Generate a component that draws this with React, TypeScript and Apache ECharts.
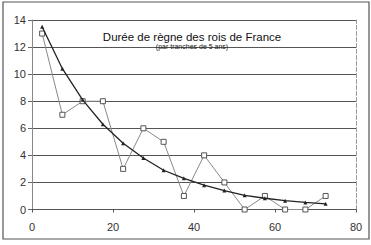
import React, { useEffect, useRef } from "react";
import * as echarts from "echarts";

const trancheCenters = [2.5, 7.5, 12.5, 17.5, 22.5, 27.5, 32.5, 37.5, 42.5, 47.5, 52.5, 57.5, 62.5, 67.5, 72.5];
const nombreRois = [13, 7, 8, 8, 3, 6, 5, 1, 4, 2, 0, 1, 0, 0, 1];
const tendance = [13.5, 10.4, 8.1, 6.3, 4.9, 3.8, 2.9, 2.3, 1.8, 1.4, 1.05, 0.83, 0.65, 0.52, 0.42];
const titre = "Durée de règne des rois de France";
const sousTitre = "(par tranches de 5 ans)";

const FONT = "Liberation Sans, Arial, sans-serif";

export default function App() {
  const ref = useRef<HTMLDivElement>(null);
  useEffect(() => {
    if (!ref.current) return;
    const chart = echarts.init(ref.current, null, { renderer: "svg" });
    chart.setOption({
      animation: false,
      backgroundColor: "#ffffff",
      title: {
        text: titre,
        subtext: sousTitre,
        left: 187,
        textAlign: "center",
        top: 26,
        itemGap: 0,
        textStyle: { fontFamily: FONT, fontSize: 11.5, fontWeight: "normal", color: "#111" },
        subtextStyle: { fontFamily: FONT, fontSize: 7, color: "#222" },
      },
      grid: { left: 32, right: 15, top: 20, bottom: 35.5 },
      xAxis: {
        type: "value",
        min: 0,
        max: 80,
        interval: 20,
        axisLine: { show: true, lineStyle: { color: "#555", width: 1 } },
        axisTick: { show: true, length: 3, lineStyle: { color: "#555" } },
        axisLabel: { fontFamily: FONT, fontSize: 11, color: "#333", margin: 12 },
        splitLine: { show: false },
      },
      yAxis: [
        {
          type: "value",
          min: 0,
          max: 14,
          interval: 2,
          axisLine: { show: true, lineStyle: { color: "#888", width: 1 } },
          axisTick: { show: true, length: 4, lineStyle: { color: "#666" } },
          axisLabel: { fontFamily: FONT, fontSize: 11, color: "#333", margin: 6 },
          splitLine: { show: true, lineStyle: { color: "#555", width: 1 } },
        },
        {
          type: "value",
          position: "right",
          min: 0,
          max: 14,
          interval: 2,
          axisLine: { show: true, lineStyle: { color: "#999", width: 1, type: "dashed" } },
          axisTick: { show: false },
          axisLabel: { show: false },
          splitLine: { show: false },
        },
      ],
      series: [
        {
          type: "line",
          name: "Rois",
          data: trancheCenters.map((x, i) => [x, nombreRois[i]]),
          symbol: "rect",
          symbolSize: 5,
          lineStyle: { color: "#888", width: 1 },
          itemStyle: { color: "#fff", borderColor: "#555", borderWidth: 1 },
          z: 3,
        },
        {
          type: "line",
          name: "Tendance",
          data: trancheCenters.map((x, i) => [x, tendance[i]]),
          symbol: "triangle",
          symbolSize: 4,
          lineStyle: { color: "#222", width: 1.3 },
          itemStyle: { color: "#222" },
          z: 4,
        },
      ],
      graphic: [
        {
          type: "rect",
          shape: { x: 3, y: 2, width: 366, height: 237 },
          style: { fill: "none", stroke: "#555", lineWidth: 1.2 },
          silent: true,
        },
      ],
    });
    return () => chart.dispose();
  }, []);
  return (
    <div
      ref={ref}
      style={{ position: "fixed", left: 0, top: 0, width: 371, height: 245 }}
    />
  );
}
